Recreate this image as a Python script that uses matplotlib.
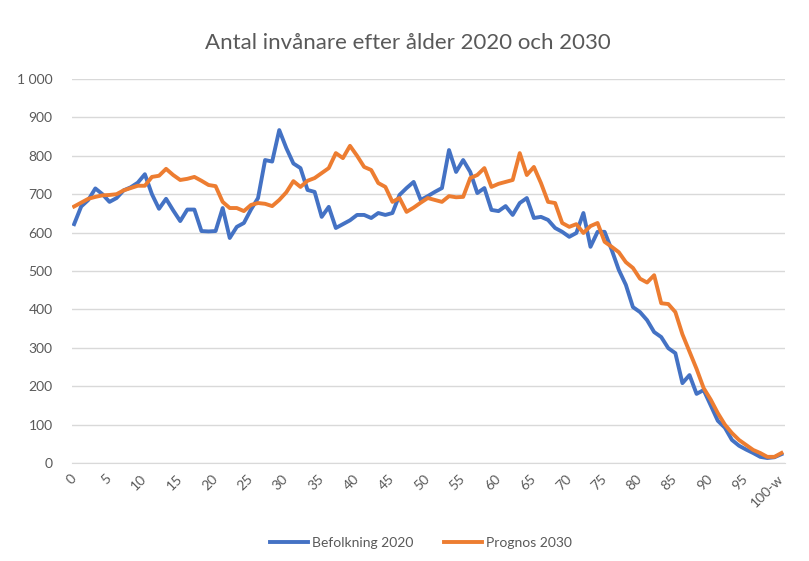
import matplotlib
matplotlib.use("Agg")
import matplotlib.pyplot as plt

# Ages 0..100 (last category is "100-w")
ages = list(range(101))
tick_pos = list(range(0, 101, 5))
tick_labels = [str(a) for a in range(0, 100, 5)] + ["100-w"]

befolkning_2020 = [
    622, 668, 685, 715, 700, 680, 690, 710, 718, 730,
    752, 700, 662, 688, 658, 630, 660, 660, 604, 603,
    604, 664, 586, 615, 625, 660, 690, 789, 785, 867,
    820, 780, 768, 711, 706, 641, 667, 612, 622, 632,
    646, 646, 638, 651, 646, 651, 698, 716, 732, 685,
    695, 706, 716, 815, 758, 789, 758, 703, 716, 659,
    656, 669, 646, 677, 690, 638, 641, 633, 612, 602,
    589, 599, 651, 563, 602, 602, 555, 503, 464, 406,
    393, 372, 341, 328, 299, 286, 208, 229, 180, 190,
    150, 110, 92, 60, 45, 35, 26, 16, 13, 15,
    23,
]

prognos_2030 = [
    668, 678, 688, 693, 697, 698, 700, 710, 716, 722,
    722, 745, 748, 766, 750, 737, 740, 745, 735, 724,
    721, 680, 664, 664, 656, 672, 677, 675, 669, 685,
    705, 734, 719, 735, 742, 755, 768, 807, 794, 826,
    800, 771, 763, 729, 719, 680, 690, 654, 665, 678,
    690, 685, 680, 695, 692, 693, 742, 750, 768, 719,
    727, 732, 737, 807, 750, 771, 729, 680, 677, 625,
    615, 622, 599, 617, 625, 576, 563, 549, 523, 508,
    480, 470, 489, 416, 414, 393, 335, 290, 245, 195,
    165, 130, 100, 78, 60, 47, 34, 26, 16, 16,
    26,
]

plt.rcParams['font.family'] = ['Lato', 'DejaVu Sans']

fig = plt.figure(figsize=(8.09, 5.61), dpi=100)
ax = fig.add_axes([72 / 809, 1 - 463 / 561, (785 - 72) / 809, (463 - 79) / 561])

ax.plot(ages, befolkning_2020, color='#4472C4', lw=2.8, label='Befolkning 2020',
        solid_joinstyle='round', zorder=3)
ax.plot(ages, prognos_2030, color='#ED7D31', lw=2.8, label='Prognos 2030',
        solid_joinstyle='round', zorder=3)

ax.set_xlim(-0.3, 100.5)
ax.set_ylim(0, 1000)
ax.set_yticks(range(0, 1001, 100))
ax.set_yticklabels(['1 000' if v == 1000 else str(v) for v in range(0, 1001, 100)])
ax.set_xticks(tick_pos)
ax.set_xticklabels(tick_labels, rotation=45, ha='right', va='center',
                   rotation_mode='anchor')

ax.grid(axis='y', color='#d9d9d9', lw=1)
ax.set_axisbelow(True)
for s in ['top', 'right', 'left']:
    ax.spines[s].set_visible(False)
ax.spines['bottom'].set_color('#d9d9d9')
ax.tick_params(axis='both', length=0, labelsize=10, labelcolor='#595959')
ax.tick_params(axis='y', pad=14)
ax.tick_params(axis='x', pad=10)

fig.text(408 / 809, 1 - 43 / 561, 'Antal invånare efter ålder 2020 och 2030',
         ha='center', va='center', fontsize=16, color='#595959')

fig.legend(loc='center', bbox_to_anchor=(421 / 809, 1 - 543 / 561), ncol=2,
           frameon=False, fontsize=10, labelcolor='#595959',
           handlelength=2.7, columnspacing=2.2, handletextpad=0.3)

fig.savefig('out.png', dpi=100, facecolor='white')
